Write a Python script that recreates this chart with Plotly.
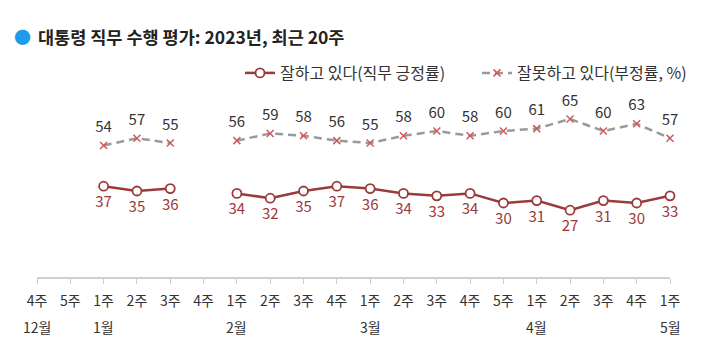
import plotly.graph_objects as go

weeks = ["4주", "5주", "1주", "2주", "3주", "4주", "1주", "2주", "3주", "4주",
         "1주", "2주", "3주", "4주", "5주", "1주", "2주", "3주", "4주", "1주"]
months = {0: "12월", 2: "1월", 6: "2월", 10: "3월", 15: "4월", 19: "5월"}
approve = [None, None, 37, 35, 36, None, 34, 32, 35, 37, 36, 34, 33, 34, 30, 31, 27, 31, 30, 33]
disapprove = [None, None, 54, 57, 55, None, 56, 59, 58, 56, 55, 58, 60, 58, 60, 61, 65, 60, 63, 57]

x = list(range(len(weeks)))
FONT = "Noto Sans CJK KR"
RED = "#9b3a3a"

# plot area in pixels: left 37, right 670, top 40, bottom 277
T, B = 40, 277
H = B - T

def py(pixel_y):
    return (B - pixel_y) / H

fig = go.Figure()
fig.add_trace(go.Scatter(
    x=x, y=approve, name="잘하고 있다(직무 긍정률)",
    mode="lines+markers", connectgaps=False,
    line=dict(color=RED, width=2.5),
    marker=dict(symbol="circle", size=9, color="white", line=dict(color=RED, width=1.8)),
    cliponaxis=False,
))
fig.add_trace(go.Scatter(
    x=x, y=disapprove, name="잘못하고 있다(부정률, %)",
    mode="lines+markers", connectgaps=False,
    line=dict(color="#9a9a9a", width=2.5, dash="8px,5px"),
    marker=dict(symbol="x-thin", size=7, color="#d05a5a", line=dict(color="#d05a5a", width=1.5)),
    cliponaxis=False,
))
# data labels
fig.add_trace(go.Scatter(
    x=x, y=approve, mode="markers+text", showlegend=False, hoverinfo="skip",
    marker=dict(size=14, opacity=0),
    text=[str(v) if v is not None else "" for v in approve],
    textposition="bottom center", textfont=dict(color=RED, size=15, family=FONT),
    cliponaxis=False,
))
fig.add_trace(go.Scatter(
    x=x, y=disapprove, mode="markers+text", showlegend=False, hoverinfo="skip",
    marker=dict(size=14, opacity=0),
    text=[str(v) if v is not None else "" for v in disapprove],
    textposition="top center", textfont=dict(color="#333333", size=15, family=FONT),
    cliponaxis=False,
))

for i, m in months.items():
    fig.add_annotation(x=i, y=py(327), xref="x", yref="paper", text=m, showarrow=False,
                       font=dict(size=14, color="#333333", family=FONT), yanchor="middle")

fig.update_layout(
    width=720, height=356,
    margin=dict(l=37, r=50, t=T, b=356 - B, autoexpand=False),
    paper_bgcolor="white", plot_bgcolor="white",
    font=dict(family=FONT, color="#333333"),
    showlegend=True,
    legend=dict(orientation="h", x=(240 - 37) / 633, xanchor="left", y=py(73), yanchor="middle",
                font=dict(size=16, color="#333333", family=FONT),
                entrywidth=192, entrywidthmode="pixels",
                bgcolor="rgba(0,0,0,0)"),
    xaxis=dict(range=[0, 19], tickmode="array", tickvals=x, ticktext=weeks,
               showgrid=False, zeroline=False, showline=True, linecolor="#d0d0d0", linewidth=1.5,
               ticks="outside", ticklen=5, tickcolor="#d0d0d0", ticklabelstandoff=5,
               tickfont=dict(size=14, color="#333333", family=FONT)),
    yaxis=dict(range=[-0.83, -0.83 + H / 2.4], visible=False, showgrid=False, zeroline=False),
)

fig.add_annotation(x=(37 - 37) / 633 - 0.002, y=py(36), xref="paper", yref="paper",
                   text="<b>대통령 직무 수행 평가: 2023년, 최근 20주</b>", showarrow=False,
                   xanchor="left", yanchor="middle",
                   font=dict(size=17.5, color="#222222", family=FONT))
fig.add_annotation(x=(22 - 37) / 633, y=py(36), xref="paper", yref="paper",
                   text="●", showarrow=False, xanchor="center", yanchor="middle",
                   font=dict(size=17, color="#1e9be9", family=FONT))

fig.write_html("out.html", config={"displayModeBar": False},
               post_script="document.body.style.margin='0';")
